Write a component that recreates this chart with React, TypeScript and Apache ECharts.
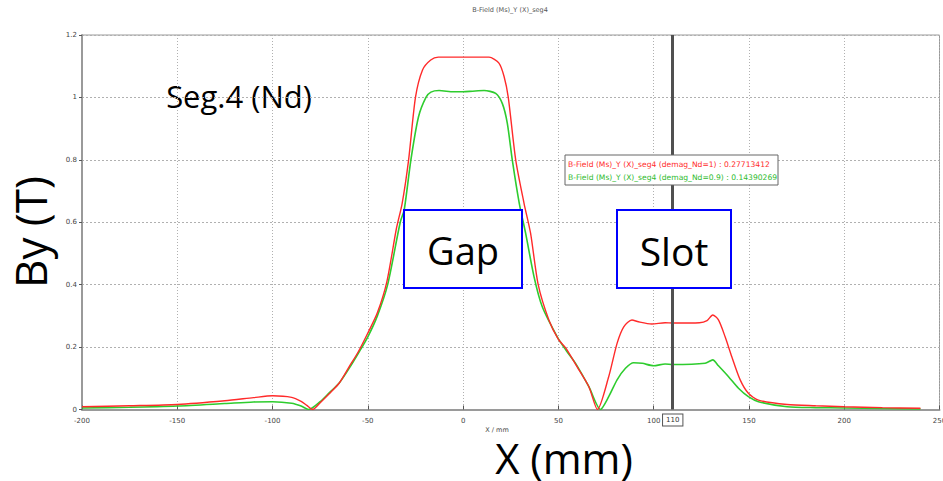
import React, { useEffect, useRef } from "react";
import * as echarts from "echarts";

const chartTitle = "B-Field (Ms)_Y (X)_seg4";
const redName = "B-Field (Ms)_Y (X)_seg4 (demag_Nd=1) : 0.27713412";
const greenName = "B-Field (Ms)_Y (X)_seg4 (demag_Nd=0.9) : 0.14390269";
const cursorX = 110;

const redX = [-200, -175, -150, -125, -110, -100, -90, -85, -82, -79, -75, -70, -65, -60, -55, -50, -45, -40, -35, -32, -28.6, -25, -21.3, -17, -13, 0, 13.6, 18.8, 21.5, 23.7, 27.6, 32, 35.4, 39.4, 45, 50, 54, 60, 66, 70.5, 76.4, 80.8, 84.3, 88.6, 92, 99, 106, 110, 124, 128, 131, 134, 137.5, 141, 145.4, 149.7, 155, 170, 185, 200, 220, 240];
const redY = [0.009, 0.012, 0.016, 0.028, 0.038, 0.044, 0.039, 0.026, 0.013, 0, 0.022, 0.052, 0.085, 0.135, 0.185, 0.245, 0.31, 0.41, 0.58, 0.66, 0.8, 1.0, 1.088, 1.12, 1.129, 1.129, 1.129, 1.11, 1.067, 1.0, 0.8, 0.66, 0.565, 0.4, 0.287, 0.225, 0.196, 0.135, 0.073, 0, 0.105, 0.212, 0.265, 0.287, 0.281, 0.274, 0.278, 0.277, 0.278, 0.285, 0.303, 0.287, 0.233, 0.169, 0.095, 0.052, 0.03, 0.016, 0.012, 0.009, 0.006, 0.004];

const greenX = [-200, -175, -150, -125, -110, -100, -90, -85, -81, -75, -70, -65, -60, -55, -50, -45, -39.6, -33, -30.9, -27.4, -23.4, -19.5, -16.9, -12.6, -5, 0, 5, 11, 17.1, 20.6, 23.2, 25.8, 29.5, 32.8, 37.2, 41.5, 49.4, 54, 59, 66, 72.1, 76.4, 80.8, 85.2, 89.5, 94, 100, 106, 110, 127, 131, 134, 139.3, 144.5, 149.7, 155, 170, 185, 200, 220, 240];
const greenY = [0.005, 0.007, 0.011, 0.019, 0.024, 0.025, 0.02, 0.011, 0, 0.025, 0.055, 0.085, 0.13, 0.18, 0.233, 0.3, 0.4, 0.6, 0.64, 0.8, 0.938, 1.0, 1.017, 1.022, 1.018, 1.018, 1.02, 1.022, 1.013, 0.98, 0.917, 0.8, 0.66, 0.565, 0.426, 0.33, 0.233, 0.19, 0.148, 0.073, 0, 0.041, 0.095, 0.132, 0.15, 0.148, 0.14, 0.146, 0.144, 0.148, 0.159, 0.14, 0.105, 0.068, 0.041, 0.025, 0.009, 0.006, 0.005, 0.003, 0.002];

const pairs = (xs: number[], ys: number[]) => xs.map((x, i) => [x, ys[i]]);

export default function App() {
  const ref = useRef<HTMLDivElement>(null);
  useEffect(() => {
    document.body.style.margin = "0";
    const chart = echarts.init(ref.current!, null, { renderer: "svg" });
    const bigFont = "'Open Sans', 'Noto Sans', sans-serif";
    const smallFont = "'DejaVu Sans', sans-serif";
    chart.setOption({
      animation: false,
      backgroundColor: "#ffffff",
      grid: {
        left: 82,
        right: 3.5,
        top: 35,
        bottom: 71.5,
        show: true,
        borderColor: "#9a9a9a",
        borderWidth: 1,
        outerBoundsMode: "none",
      },
      xAxis: {
        type: "value",
        min: -200,
        max: 250,
        interval: 50,
        axisLine: { show: true, onZero: false, lineStyle: { color: "#9a9a9a", width: 2 } },
        axisTick: { show: true, inside: true, length: 4, lineStyle: { color: "#555" } },
        axisLabel: { fontSize: 7, color: "#444", fontFamily: smallFont, margin: 8 },
        splitLine: { show: true, lineStyle: { color: "#b0b0b0", type: [1, 2], width: 1 } },
      },
      yAxis: {
        type: "value",
        min: 0,
        max: 1.2,
        interval: 0.2,
        axisLine: { show: true, onZero: false, lineStyle: { color: "#9a9a9a", width: 2 } },
        axisTick: { show: true, length: 3, lineStyle: { color: "#555" } },
        axisLabel: { fontSize: 7, color: "#444", fontFamily: smallFont, margin: 5 },
        splitLine: { show: true, lineStyle: { color: "#b0b0b0", type: [2, 2], width: 1 } },
      },
      series: [
        {
          type: "line",
          name: "green",
          data: pairs(greenX, greenY),
          showSymbol: false,
          smooth: 0.25,
          lineStyle: { color: "#2ecc2e", width: 1.6 },
          z: 3,
        },
        {
          type: "line",
          name: "red",
          data: pairs(redX, redY),
          showSymbol: false,
          smooth: 0.25,
          lineStyle: { color: "#ff2a2a", width: 1.4 },
          z: 4,
          markLine: {
            silent: true,
            symbol: "none",
            lineStyle: { color: "#505050", width: 3, type: "solid" },
            label: {
              show: true,
              position: "start",
              formatter: String(cursorX),
              fontSize: 7,
              fontFamily: smallFont,
              color: "#333",
              borderColor: "#555",
              borderWidth: 1,
              backgroundColor: "#fff",
              padding: [2, 3],
              distance: 5,
            },
            data: [{ xAxis: cursorX }],
          },
        },
      ],
      graphic: [
        {
          type: "text",
          x: 510,
          y: 10,
          style: { text: chartTitle, fontSize: 6.5, fill: "#555", fontFamily: smallFont, align: "center", verticalAlign: "middle" },
        },
        {
          type: "text",
          x: 239,
          y: 96,
          style: { text: "Seg.4 (Nd)", fontSize: 31, fill: "#000", fontFamily: bigFont, align: "center", verticalAlign: "middle" },
        },
        {
          type: "text",
          x: 30,
          y: 232,
          rotation: Math.PI / 2,
          style: { text: "By (T)", fontSize: 44, fill: "#000", fontFamily: bigFont, align: "center", verticalAlign: "middle" },
        },
        {
          type: "text",
          x: 564,
          y: 457,
          style: { text: "X (mm)", fontSize: 42, fill: "#000", fontFamily: bigFont, align: "center", verticalAlign: "middle", lineHeight: 40 },
        },
        {
          type: "text",
          x: 497,
          y: 430,
          style: { text: "X / mm", fontSize: 6.5, fill: "#444", fontFamily: smallFont, align: "center", verticalAlign: "middle", lineHeight: 7 },
        },
        {
          type: "rect",
          shape: { x: 404, y: 210, width: 118, height: 78 },
          style: { fill: "#fff", stroke: "#0000ff", lineWidth: 2 },
          z: 10,
        },
        {
          type: "text",
          x: 463,
          y: 250,
          z: 11,
          style: { text: "Gap", fontSize: 38, fill: "#000", fontFamily: bigFont, align: "center", verticalAlign: "middle" },
        },
        {
          type: "rect",
          shape: { x: 617, y: 210, width: 114, height: 78 },
          style: { fill: "#fff", stroke: "#0000ff", lineWidth: 2 },
          z: 10,
        },
        {
          type: "text",
          x: 674,
          y: 250,
          z: 11,
          style: { text: "Slot", fontSize: 39, fill: "#000", fontFamily: bigFont, align: "center", verticalAlign: "middle" },
        },
        {
          type: "rect",
          shape: { x: 565, y: 155, width: 213, height: 30 },
          style: { fill: "#fff", stroke: "#666", lineWidth: 1 },
          z: 10,
        },
        {
          type: "text",
          x: 568,
          y: 164,
          z: 11,
          style: { text: redName, fontSize: 7.6, fill: "#ff2a2a", fontFamily: smallFont, align: "left", verticalAlign: "middle" },
        },
        {
          type: "text",
          x: 568,
          y: 177,
          z: 11,
          style: { text: greenName, fontSize: 7.6, fill: "#2ebb2e", fontFamily: smallFont, align: "left", verticalAlign: "middle" },
        },
      ],
    });
    return () => chart.dispose();
  }, []);
  return <div ref={ref} style={{ width: 943, height: 481 }} />;
}
